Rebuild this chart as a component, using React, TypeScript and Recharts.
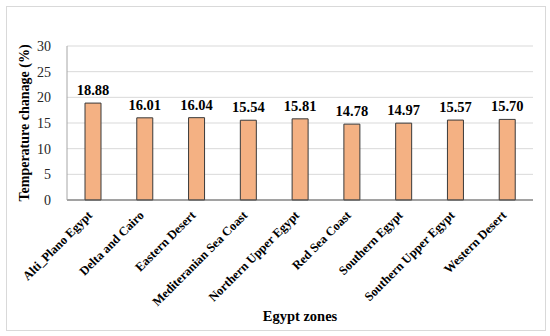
import React from 'react';
import { BarChart, Bar, XAxis, YAxis, CartesianGrid, LabelList, Label } from 'recharts';

const zones = [
  'Alti_Plano Egypt',
  'Delta and Cairo',
  'Eastern Desert',
  'Mediteranian Sea Coast',
  'Northern Upper Egypt',
  'Red Sea Coast',
  'Southern Egypt',
  'Southern Upper Egypt',
  'Western Desert',
];
const changes = [18.88, 16.01, 16.04, 15.54, 15.81, 14.78, 14.97, 15.57, 15.7];
const yTicks = [0, 5, 10, 15, 20, 25, 30];

const data = zones.map((zone, i) => ({ zone, value: changes[i] }));

const font = 'Liberation Serif';

// rotated category labels, anchored at the end like Excel does
const ZoneTick = (props: any) => {
  const { x, y, payload } = props;
  return (
    <text
      x={x}
      y={y + 8}
      textAnchor="end"
      style={{ fontFamily: font, fontWeight: 'bold', fontSize: 12.5 }}
      fill="#000"
      transform={`rotate(-45, ${x}, ${y + 8})`}
    >
      {payload.value}
    </text>
  );
};

const App: React.FC = () => {
  return (
    <div style={{ position: 'absolute', left: 0, top: 0, width: 550, height: 336, background: '#fff', fontFamily: font }}>
      <div
        style={{
          position: 'absolute',
          left: 6,
          top: 6,
          width: 538,
          height: 323,
          border: '1px solid #d9d9d9',
        }}
      />
      <div style={{ position: 'absolute', left: 0, top: 0 }}>
        <BarChart
          width={550}
          height={336}
          data={data}
          margin={{ top: 46, right: 17, left: 0, bottom: 0 }}
        >
          <CartesianGrid vertical={false} stroke="#d9d9d9" />
          <XAxis
            dataKey="zone"
            height={136}
            interval={0}
            tickLine={false}
            stroke="#595959"
            tick={<ZoneTick />}
          >
            <Label
              value="Egypt zones"
              position="insideBottom"
              offset={15}
              style={{ fontFamily: font, fontWeight: 'bold', fontSize: 14.5, fill: '#000' }}
            />
          </XAxis>
          <YAxis
            width={67}
            domain={[0, 30]}
            ticks={yTicks}
            tickLine={false}
            stroke="#a6a6a6"
            tickMargin={10}
            tick={{ style: { fontFamily: font, fontSize: 14 }, fill: '#262626' }}
          >
            <Label
              value="Temperature chanage (%)"
              angle={-90}
              position="insideLeft"
              offset={24}
              style={{ textAnchor: 'middle', fontFamily: font, fontWeight: 'bold', fontSize: 14, fill: '#000' }}
            />
          </YAxis>
          <Bar dataKey="value" fill="#f4b183" stroke="#3a3a3a" strokeWidth={1} barSize={16} isAnimationActive={false}>
            <LabelList
              dataKey="value"
              position="top"
              offset={8}
              formatter={(v: any) => Number(v).toFixed(2)}
              style={{ fontFamily: font, fontWeight: 'bold', fontSize: 14.5, fill: '#000' }}
            />
          </Bar>
        </BarChart>
      </div>
    </div>
  );
};

export default App;
